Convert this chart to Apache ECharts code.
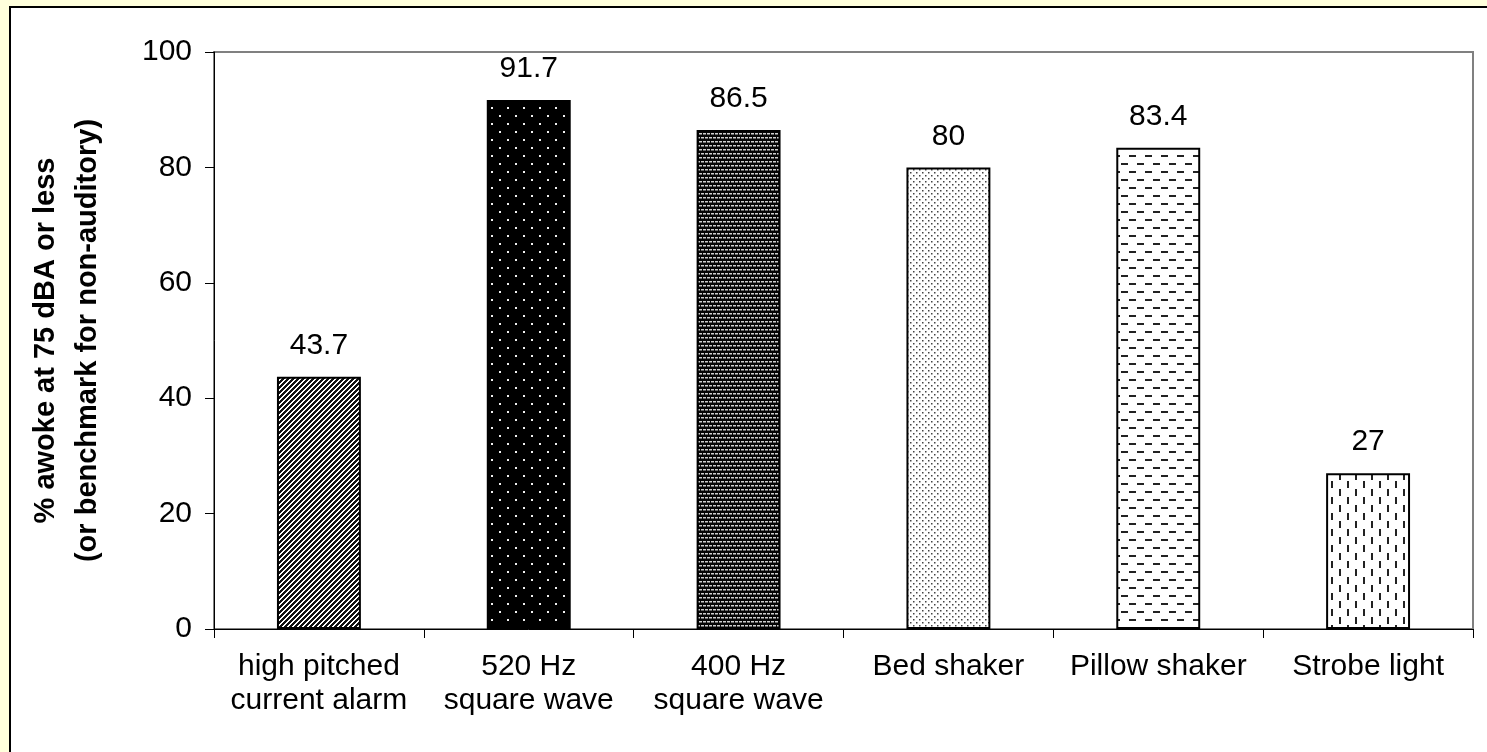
<!DOCTYPE html>
<html>
<head>
<meta charset="utf-8">
<style>
  html, body { margin: 0; padding: 0; background: #FFFFDC; }
  #chart { width: 1487px; height: 752px; }
</style>
<script src="https://cdn.jsdelivr.net/npm/echarts@6/dist/echarts.min.js"></script>
</head>
<body>
<div id="chart"></div>
<script>
// Awakening rates by alarm signal type
const categories = [
  'high pitched\ncurrent alarm',
  '520 Hz\nsquare wave',
  '400 Hz\nsquare wave',
  'Bed shaker',
  'Pillow shaker',
  'Strobe light'
];
const values = [43.7, 91.7, 86.5, 80, 83.4, 27];
const yAxisTitle = '% awoke at 75 dBA or less\n(or benchmark for non-auditory)';

const FONT = 'Arial, "Liberation Sans", sans-serif';

// Small tiled canvases used as bar fills (hatching styles)
function makeTile(w, h, bg, draw) {
  const c = document.createElement('canvas');
  c.width = w; c.height = h;
  const ctx = c.getContext('2d');
  ctx.fillStyle = bg;
  ctx.fillRect(0, 0, w, h);
  draw(ctx);
  return { image: c, repeat: 'repeat' };
}

const patterns = [
  // diagonal stripes
  makeTile(5, 5, '#ffffff', ctx => {
    ctx.fillStyle = '#111';
    for (let y = 0; y < 5; y++)
      for (let x = 0; x < 5; x++)
        if ((x + y) % 5 < 2.5) ctx.fillRect(x, y, 1, 1);
  }),
  // black with sparse white dots
  makeTile(16, 16, '#000000', ctx => {
    ctx.fillStyle = '#f0f0f0';
    ctx.fillRect(3, 3, 2, 2);
    ctx.fillRect(11, 11, 2, 2);
  }),
  // dense dark weave
  makeTile(8, 8, '#050505', ctx => {
    ctx.fillStyle = '#cfcfcf';
    ctx.fillRect(1, 1, 3, 1.5);
    ctx.fillRect(5, 1, 3, 1.5);
    ctx.fillRect(3, 5, 3, 1.5);
    ctx.fillRect(7, 5, 1, 1.5);
    ctx.fillRect(0, 5, 2, 1.5);
  }),
  // light dotted
  makeTile(6, 6, '#ffffff', ctx => {
    ctx.fillStyle = '#444';
    ctx.fillRect(1, 1, 1.5, 1.5);
    ctx.fillRect(4, 4, 1.5, 1.5);
  }),
  // horizontal dashes
  makeTile(16, 16, '#ffffff', ctx => {
    ctx.fillStyle = '#222';
    ctx.fillRect(1, 3, 7, 2);
    ctx.fillRect(9, 11, 7, 2);
  }),
  // vertical dashes
  makeTile(16, 16, '#ffffff', ctx => {
    ctx.fillStyle = '#222';
    ctx.fillRect(3, 1, 2, 7);
    ctx.fillRect(11, 9, 2, 7);
  })
];

const chart = echarts.init(document.getElementById('chart'), null, { renderer: 'canvas' });

chart.setOption({
  backgroundColor: '#FFFFDC',
  animation: false,
  textStyle: { fontFamily: FONT },
  graphic: [{
    type: 'rect',
    z: -10,
    shape: { x: 10, y: 7, width: 1600, height: 900 },
    style: { fill: '#ffffff', stroke: '#000000', lineWidth: 2 }
  }],
  grid: {
    left: 214, top: 52, right: 14, bottom: 123,
    show: true,
    borderColor: '#808080',
    borderWidth: 2,
    backgroundColor: 'transparent'
  },
  xAxis: {
    type: 'category',
    data: categories,
    axisLine: { lineStyle: { color: '#000', width: 1 } },
    axisTick: { show: true, alignWithLabel: false, length: 9, lineStyle: { color: '#000' } },
    axisLabel: {
      interval: 0,
      color: '#000',
      fontSize: 30,
      fontFamily: FONT,
      lineHeight: 34,
      margin: 21
    },
    splitLine: { show: false }
  },
  yAxis: {
    type: 'value',
    min: 0, max: 100, interval: 20,
    name: yAxisTitle,
    nameLocation: 'middle',
    nameGap: 105,
    nameTextStyle: {
      color: '#000',
      fontSize: 29,
      fontWeight: 'bold',
      fontFamily: FONT,
      lineHeight: 42
    },
    axisLine: { show: true, lineStyle: { color: '#000', width: 1 } },
    axisTick: { show: true, length: 9, lineStyle: { color: '#000' } },
    axisLabel: { color: '#000', fontSize: 30, fontFamily: FONT, margin: 22 },
    splitLine: { show: false }
  },
  series: [{
    type: 'bar',
    barWidth: '40%',
    data: values.map((v, i) => ({
      value: v,
      itemStyle: { color: patterns[i], borderColor: '#000', borderWidth: 2 }
    })),
    label: {
      show: true,
      position: 'top',
      distance: 16,
      color: '#000',
      fontSize: 30,
      fontFamily: FONT
    }
  }]
});
</script>
</body>
</html>
